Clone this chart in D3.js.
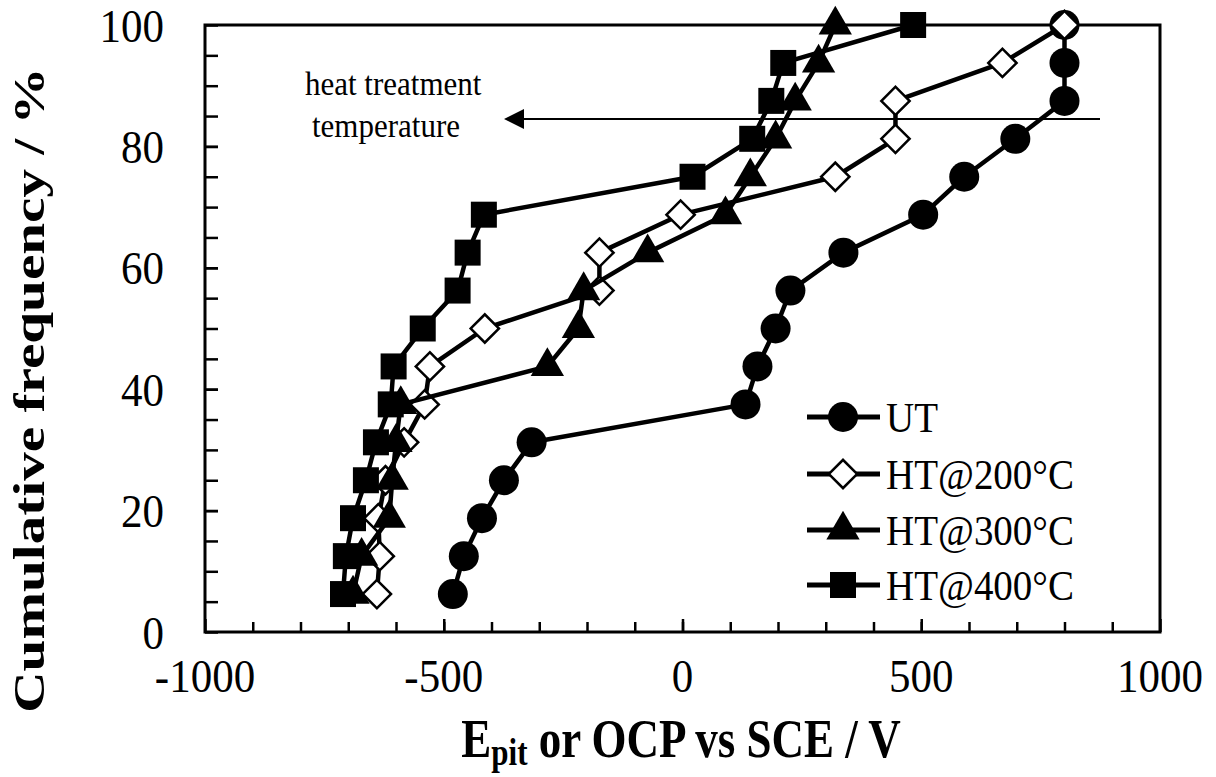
<!DOCTYPE html>
<html>
<head>
  <meta charset="utf-8">
  <script src="https://d3js.org/d3.v7.min.js"></script>
  <style>
    html, body { margin:0; padding:0; background:#fff; }
    svg { display:block; }
    text { font-family: "Liberation Serif", "Times New Roman", serif; fill:#000; }
  </style>
</head>
<body>
<script>
  // cumulative frequency levels (16 samples each)
  var freq = [6.25, 12.5, 18.75, 25, 31.25, 37.5, 43.75, 50, 56.25, 62.5, 68.75, 75, 81.25, 87.5, 93.75, 100];

  // potentials (mV)
  var utVals    = [-481, -458, -420, -374, -316, 132, 157, 195, 226, 337, 504, 590, 697, 800, 800, 800];
  var ht200Vals = [-640, -634, -637, -622, -583, -540, -529, -414, -174, -174, -4, 320, 446, 446, 670, 800];
  var ht300Vals = [-690, -672, -614, -608, -600, -590, -283, -218, -207, -73, 90, 142, 195, 236, 285, 320];
  var ht400Vals = [-711, -705, -690, -663, -642, -611, -605, -544, -471, -450, -416, 21, 146, 186, 211, 483];

  var seriesNames = ["UT", "HT@200°C", "HT@300°C", "HT@400°C"];
  var xTicks = [-1000, -500, 0, 500, 1000];
  var yTicks = [0, 20, 40, 60, 80, 100];

  var W = 1216, H = 777;
  var STRETCH = 1.1; // the original text looks taller than wide

  var svg = d3.select("body").append("svg").attr("width", W).attr("height", H);

  var x = d3.scaleLinear().domain([-1000, 1000]).range([205, 1160]);
  var y = d3.scaleLinear().domain([0, 100]).range([632, 25]);

  // minor ticks
  svg.append("g").attr("transform", "translate(0,632)")
    .call(d3.axisBottom(x).tickValues(d3.range(-900, 1000, 100)).tickSize(-10).tickFormat(""))
    .call(function(g){ g.select(".domain").remove(); g.selectAll("line").attr("stroke-width", 2.5); });
  svg.append("g").attr("transform", "translate(205,0)")
    .call(d3.axisLeft(y).tickValues(d3.range(5, 100, 5)).tickSize(-13).tickFormat(""))
    .call(function(g){ g.select(".domain").remove(); g.selectAll("line").attr("stroke-width", 2.5); });

  // major ticks
  svg.append("g").attr("transform", "translate(0,632)")
    .call(d3.axisBottom(x).tickValues(xTicks).tickSize(-13).tickFormat(""))
    .call(function(g){ g.select(".domain").remove(); g.selectAll("line").attr("stroke-width", 2.5); });
  svg.append("g").attr("transform", "translate(205,0)")
    .call(d3.axisLeft(y).tickValues(yTicks).tickSize(-13).tickFormat(""))
    .call(function(g){ g.select(".domain").remove(); g.selectAll("line").attr("stroke-width", 2.5); });

  // tick labels
  svg.selectAll("text.xl").data(xTicks).enter().append("text").attr("class", "xl")
    .attr("transform", function(d){ return "translate(" + x(d) + ",675) scale(1," + STRETCH + ")"; })
    .attr("text-anchor", "middle").attr("dy", "0.35em").attr("font-size", 43)
    .text(function(d){ return String(d); });
  svg.selectAll("text.yl").data(yTicks).enter().append("text").attr("class", "yl")
    .attr("transform", function(d){ return "translate(164," + y(d) + ") scale(1," + STRETCH + ")"; })
    .attr("text-anchor", "end").attr("dy", "0.35em").attr("font-size", 43)
    .text(function(d){ return String(d); });

  // frame
  svg.append("rect").attr("x", 205).attr("y", 25).attr("width", 1160 - 205).attr("height", 632 - 25)
    .attr("fill", "none").attr("stroke", "#000").attr("stroke-width", 3);

  // axis titles
  svg.append("text").attr("transform", "translate(44,390) rotate(-90) scale(1.3,1)")
    .attr("text-anchor", "middle").attr("font-size", 44).attr("font-weight", "bold")
    .text("Cumulative frequency / %");

  var xt = svg.append("text").attr("transform", "translate(681,757) scale(1,1.2)")
    .attr("text-anchor", "middle").attr("font-size", 45).attr("font-weight", "bold");
  xt.append("tspan").text("E");
  xt.append("tspan").attr("font-size", 31).attr("dy", 7).text("pit");
  xt.append("tspan").attr("dy", -7).text(" or OCP vs SCE / V");

  // annotation
  svg.append("text").attr("transform", "translate(305,95) scale(1,1.1)").attr("font-size", 31).text("heat treatment");
  svg.append("text").attr("transform", "translate(312,137) scale(1,1.1)").attr("font-size", 31).text("temperature");
  svg.append("line").attr("x1", 520).attr("y1", 119).attr("x2", 1100).attr("y2", 119)
    .attr("stroke", "#000").attr("stroke-width", 2);
  svg.append("path").attr("d", "M504,119 L524,109 L524,129 Z").attr("fill", "#000");

  // series
  var symCircle = d3.symbol().type(d3.symbolCircle).size(Math.PI * 15 * 15);
  var symDiamond = d3.symbol().type(d3.symbolSquare).size(20 * 20);
  var symTriangle = d3.symbol().type(d3.symbolTriangle).size(480);
  var symSquare = d3.symbol().type(d3.symbolSquare).size(26 * 26);

  var series = [
    { name: seriesNames[0], vals: utVals, sym: symCircle, rot: 0, fill: "#000", sw: 0 },
    { name: seriesNames[1], vals: ht200Vals, sym: symDiamond, rot: 45, fill: "#fff", sw: 2.5 },
    { name: seriesNames[2], vals: ht300Vals, sym: symTriangle, rot: 0, fill: "#000", sw: 0 },
    { name: seriesNames[3], vals: ht400Vals, sym: symSquare, rot: 0, fill: "#000", sw: 0 }
  ];

  var line = d3.line().x(function(d){ return x(d[0]); }).y(function(d){ return y(d[1]); });

  series.forEach(function(s) {
    var pts = s.vals.map(function(v, i){ return [v, freq[i]]; });
    var g = svg.append("g");
    g.append("path").datum(pts).attr("d", line)
      .attr("fill", "none").attr("stroke", "#000").attr("stroke-width", 4.5).attr("stroke-linejoin", "round");
    g.selectAll("path.m").data(pts).enter().append("path").attr("class", "m")
      .attr("d", s.sym)
      .attr("transform", function(d){ return "translate(" + x(d[0]) + "," + y(d[1]) + ") rotate(" + s.rot + ")"; })
      .attr("fill", s.fill).attr("stroke", "#000").attr("stroke-width", s.sw);
  });

  // legend
  var legY = [417, 474, 530, 585];
  series.forEach(function(s, i) {
    var g = svg.append("g").attr("transform", "translate(0," + legY[i] + ")");
    g.append("line").attr("x1", 807).attr("x2", 880).attr("y1", 0).attr("y2", 0)
      .attr("stroke", "#000").attr("stroke-width", 5);
    g.append("path").attr("d", s.sym)
      .attr("transform", "translate(843,0) rotate(" + s.rot + ")")
      .attr("fill", s.fill).attr("stroke", "#000").attr("stroke-width", s.sw);
    g.append("text").attr("transform", "translate(886,0) scale(1,1.1)").attr("dy", "0.35em")
      .attr("font-size", 39).text(s.name);
  });
</script>
</body>
</html>
